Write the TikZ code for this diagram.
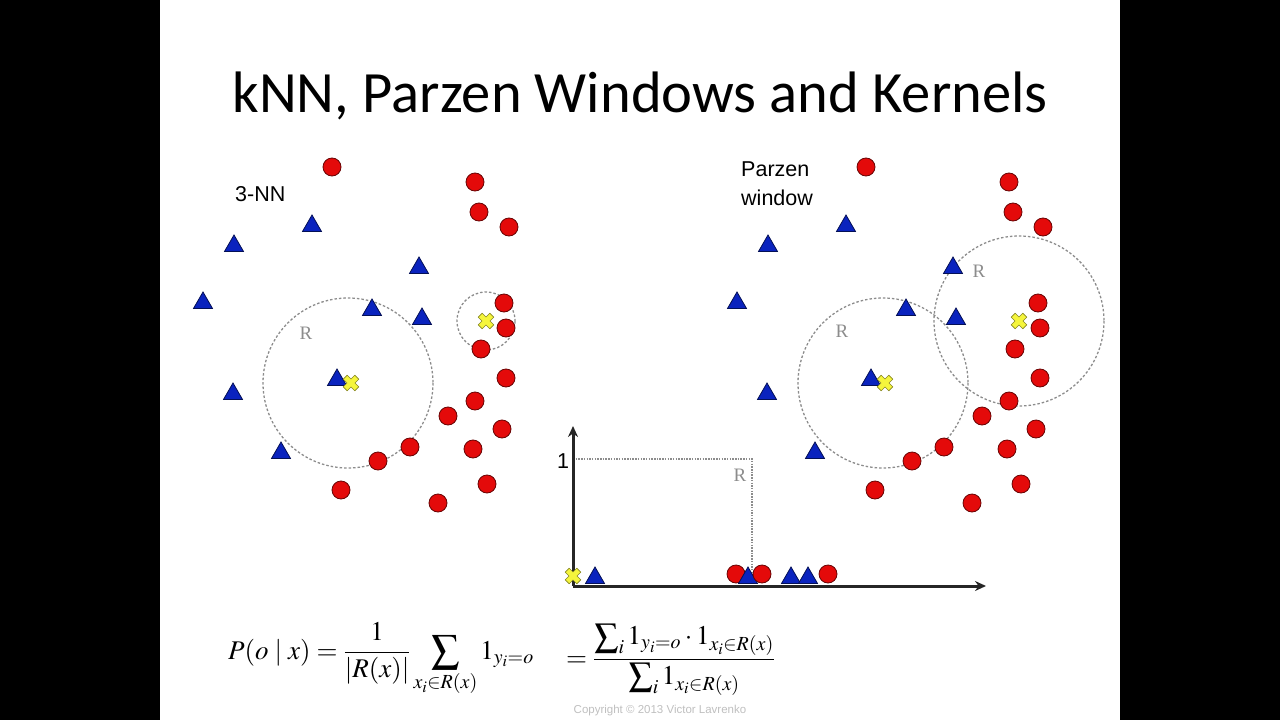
\documentclass[tikz,border=0pt]{standalone}
\usepackage{amsmath}
\usepackage{mathptmx}
\usepackage{fontspec}
\setmainfont{Liberation Serif}
\setsansfont{Liberation Sans}
\newfontfamily\titlefont{Carlito}
\usetikzlibrary{arrows.meta,shapes.geometric}

\definecolor{ptred}{RGB}{228,10,10}
\definecolor{ptblue}{RGB}{10,35,190}
\definecolor{ptyellow}{RGB}{245,245,60}
\definecolor{rgray}{RGB}{140,140,140}

\newcommand{\bigsum}[1]{\mathop{\vcenter{\hbox{\fontsize{#1}{#1}\selectfont$\textstyle\sum$}}}}

\tikzset{
  redpt/.style={circle, fill=ptred, draw=ptred!45!black, line width=0.8pt, minimum size=18pt, inner sep=0pt},
  bluetri/.style={regular polygon, regular polygon sides=3, fill=ptblue, draw=ptblue!45!black, line width=0.8pt, minimum size=22pt, inner sep=0pt, yshift=-2pt},
  query/.pic={\filldraw[fill=ptyellow, draw=ptyellow!55!black, line width=0.6pt, rotate=45]
    (2.8,8.2) -- (-2.8,8.2) -- (-2.8,2.8) -- (-8.2,2.8) -- (-8.2,-2.8) -- (-2.8,-2.8) -- (-2.8,-8.2)
    -- (2.8,-8.2) -- (2.8,-2.8) -- (8.2,-2.8) -- (8.2,2.8) -- (2.8,2.8) -- cycle;},
  window/.style={rgray, line width=1.3pt, dash pattern=on 2.5pt off 2pt},
  boxline/.style={rgray, line width=1.1pt, dash pattern=on 1.5pt off 1.2pt},
  axisline/.style={black!85, line width=3pt, -{Stealth[length=11pt,width=10pt]}},
  rlabel/.style={rgray, inner sep=0pt, font=\fontsize{19}{20}\selectfont},
  tag/.style={inner sep=0pt, font=\sffamily\fontsize{21.5}{28.5}\selectfont},
  formula/.style={inner sep=0pt, font=\fontsize{27}{30}\selectfont}
}

% data of the scatter (pixels of the slide)
\def\redpts{332/167,475/182,479/212,509/227,504/303,506/328,481/349,506/378,475/401,448/416,502/429,473/449,410/447,378/461,487/484,341/490,438/503}
\def\bluepts{312/224,234/244,419/266,203/301,372/308,422/317,337/378,233/392,281/451}

\begin{document}
\begin{tikzpicture}[x=1pt,y=-1pt]
  \useasboundingbox (0,0) rectangle (1280,720);
  \fill[black] (0,0) rectangle (160,720);
  \fill[black] (1120,0) rectangle (1280,720);

  % title
  \node[inner sep=0pt, anchor=base, font=\titlefont\fontsize{58.5}{60}\selectfont] (title) at (640,112) {kNN, Parzen Windows and Kernels};

  % query points
  \coordinate (kq1) at (351,383);
  \coordinate (kq2) at (486,321);
  \coordinate (pq1) at (885,383);
  \coordinate (pq2) at (1019,321);

  % windows R(x)
  \draw[window] ([xshift=-3pt]kq1) circle (85);
  \draw[window] (kq2) circle (29);
  \draw[window] ([xshift=-2pt]pq1) circle (85);
  \draw[window] (pq2) circle (85);
  \node[rlabel] (kr) at (306,333) {R};
  \node[rlabel] (pra) at (842,331) {R};
  \node[rlabel] (prb) at (979,271) {R};

  % 3-NN (left) and Parzen window (right)
  \foreach \x/\y [count=\i] in \redpts {
    \node[redpt] (kc\i) at (\x,\y) {};
    \node[redpt] (pc\i) at (\x+534,\y) {};
  }
  \foreach \x/\y [count=\i] in \bluepts {
    \node[bluetri] (kt\i) at (\x,\y) {};
    \node[bluetri] (pt\i) at (\x+534,\y) {};
  }
  \pic at (kq1) {query};
  \pic at (kq2) {query};
  \pic at (pq1) {query};
  \pic at (pq2) {query};

  \node[tag, anchor=base west] (knn) at (235,201) {3-NN};
  \node[tag, anchor=north west, align=left] (parzen) at (741,162) {Parzen\\window};

  % 1-d window
  \coordinate (o) at (573,586);
  \coordinate (ytip) at (573,426);
  \coordinate (xtip) at (986,586);
  \coordinate (rtop) at (573,459);
  \coordinate (rcorner) at (752,459);
  \coordinate (rfoot) at (752,586);
  \draw[boxline] (rtop) -- (rcorner) -- (rfoot);
  \draw[axisline] (o) -- (ytip);
  \draw[axisline] (o) -- (xtip);
  \node[tag] (one) at (563,461) {1};
  \node[rlabel] (rbox) at (740,475) {R};
  \pic at (573,576) {query};
  \node[bluetri] (at1) at (595,576) {};
  \node[redpt] (ac1) at (736,574) {};
  \node[bluetri] (at2) at (748,576) {};
  \node[redpt] (ac2) at (762,574) {};
  \node[bluetri] (at3) at (791,576) {};
  \node[bluetri] (at4) at (808,576) {};
  \node[redpt] (ac3) at (828,574) {};

  % estimate
  \node[formula, anchor=base west] (pox) at (228,659)
    {$P(o\mid x)=\dfrac{1}{\left|R(x)\right|}\bigsum{40}\limits_{x_i\in R(x)}1_{y_i=o}$};
  \node[formula, anchor=base west] (ratio) at (566,666)
    {$=\dfrac{\bigsum{34}_i 1_{y_i=o}\cdot 1_{x_i\in R(x)}}{\bigsum{34}_i 1_{x_i\in R(x)}}$};
  \node[inner sep=0pt, text=black!25, font=\sffamily\fontsize{11.5}{13}\selectfont] (copy) at (660,711) {Copyright \textcopyright{} 2013 Victor Lavrenko};
\end{tikzpicture}
\end{document}
